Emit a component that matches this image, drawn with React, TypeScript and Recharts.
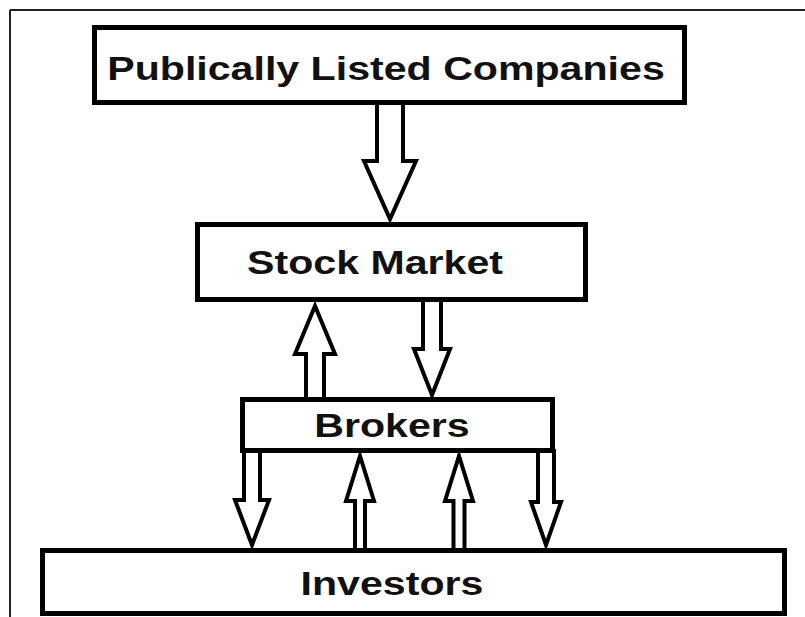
import { ComposedChart, XAxis, YAxis, ReferenceArea, ReferenceLine } from 'recharts';

// diagram units = pixels of the 805x617 picture (y grows downward)
const W = 805;
const H = 617;

const nodeNames = ['Publically Listed Companies', 'Stock Market', 'Brokers', 'Investors'];
const nodeX1 = [94.5, 197.5, 242.5, 42.5];
const nodeX2 = [684.5, 585.5, 552.5, 784.5];
const nodeY1 = [27.5, 224.5, 399.5, 550.5];
const nodeY2 = [102.5, 299.5, 450.5, 613.5];
const labelX = [386, 375, 392, 392];
const labelY = [80, 274, 437, 595];

// hollow block arrows: tail -> tip
const arrowCx = [390, 315, 432, 252, 360, 459, 546];
const arrowHeadW = [52, 40, 36, 34, 28, 28, 30];
const arrowShaftW = [26, 18, 18, 16, 10, 11, 16];
const arrowFrom = [103, 399, 300, 451, 550, 550, 451];
const arrowTo = [219, 306, 395, 545, 456, 456, 545];
const arrowHeadLen = [58, 48, 46, 45, 45, 45, 43];

const FONT = '"Liberation Sans", Arial, Helvetica, sans-serif';

function BoxShape(props: any) {
  const { x, y, width, height, i } = props;
  const sx = width / (nodeX2[i] - nodeX1[i]);
  const sy = height / (nodeY2[i] - nodeY1[i]);
  const tx = x + (labelX[i] - nodeX1[i]) * sx;
  const ty = y + (labelY[i] - nodeY1[i]) * sy;
  return (
    <g>
      <rect x={x} y={y} width={width} height={height} fill="#fff" stroke="#000" strokeWidth={5} />
      <text x={0} y={0} transform={`translate(${tx},${ty}) scale(1.21,1)`}
            textAnchor="middle" fontFamily={FONT} fontWeight="bold" fontSize={34} fill="#111">
        {nodeNames[i]}
      </text>
    </g>
  );
}

function ArrowShape(props: any) {
  const { x, y, width, height, i } = props;
  const down = arrowTo[i] > arrowFrom[i];
  const span = Math.abs(arrowTo[i] - arrowFrom[i]);
  const cx = x + width / 2;
  const sw = (arrowShaftW[i] / arrowHeadW[i]) * width / 2;
  const hl = (arrowHeadLen[i] / span) * height;
  const tail = down ? y : y + height;
  const tip = down ? y + height : y;
  const base = down ? tip - hl : tip + hl;
  const pts = [
    [cx - sw, tail], [cx + sw, tail], [cx + sw, base], [x + width, base],
    [cx, tip], [x, base], [cx - sw, base],
  ].map((p) => p.join(',')).join(' ');
  return <polygon points={pts} fill="#fff" stroke="#000" strokeWidth={4} strokeLinejoin="miter" />;
}

export default function App() {
  return (
    <div style={{ position: 'absolute', left: 0, top: 0, width: W, height: H, background: '#fff' }}>
      <ComposedChart width={W} height={H} data={[]} margin={{ top: 0, right: 0, bottom: 0, left: 0 }}>
        <XAxis type="number" dataKey="x" domain={[0, W]} hide allowDataOverflow />
        <YAxis type="number" dataKey="y" domain={[0, H]} reversed hide allowDataOverflow />
        <ReferenceLine segment={[{ x: 10, y: 10 }, { x: W, y: 10 }]} stroke="#222" strokeWidth={2} />
        <ReferenceLine segment={[{ x: 10, y: 10 }, { x: 10, y: H }]} stroke="#222" strokeWidth={2} />
        {arrowCx.map((c, i) => (
          <ReferenceArea key={'a' + i}
            x1={c - arrowHeadW[i] / 2} x2={c + arrowHeadW[i] / 2}
            y1={Math.min(arrowFrom[i], arrowTo[i])} y2={Math.max(arrowFrom[i], arrowTo[i])}
            isAnimationActive={false}
            shape={(p: any) => <ArrowShape {...p} i={i} />} />
        ))}
        {nodeNames.map((n, i) => (
          <ReferenceArea key={n}
            x1={nodeX1[i]} x2={nodeX2[i]} y1={nodeY1[i]} y2={nodeY2[i]}
            isAnimationActive={false}
            shape={(p: any) => <BoxShape {...p} i={i} />} />
        ))}
      </ComposedChart>
    </div>
  );
}
